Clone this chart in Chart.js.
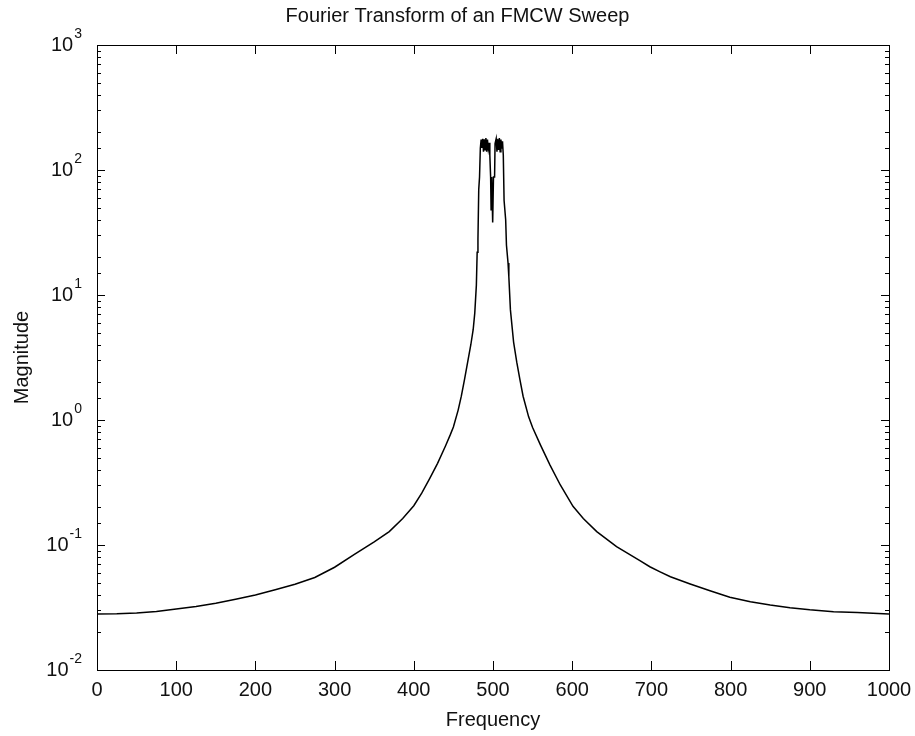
<!DOCTYPE html>
<html>
<head>
<meta charset="utf-8">
<script src="https://cdn.jsdelivr.net/npm/chart.js@4.4.1/dist/chart.umd.min.js"></script>
<style>
  body { margin: 0; background: #fff; }
  #wrap { width: 915px; height: 736px; }
</style>
</head>
<body>
<div id="wrap"><canvas id="fft" width="915" height="736"></canvas></div>
<script>
// values
const freq = [
    0, 25, 50, 75, 100, 125, 150, 175, 200, 225, 250, 275, 300, 325, 350, 369, 386,
    400, 410, 420, 430, 440, 446, 450, 456, 460, 464, 468, 472, 475, 477, 479,
    480, 481, 482, 483,
    484, 485, 486, 487, 488, 489, 490, 491, 492, 493, 494, 495, 496, 497,
    497.6, 498.4, 499.6, 500.6, 502, 502.6,
    504, 505, 506, 507, 508, 509, 510, 511, 512, 513, 514,
    516, 517, 519, 520, 522, 526, 530, 534, 538, 545, 550, 560, 572, 585,
    601, 614, 631, 656, 686, 698, 711, 724, 749, 774, 799, 825, 850, 875,
    900, 930, 960, 993, 1000
];
const magnitude = [
    0.0281, 0.0282, 0.0286, 0.0294, 0.0308, 0.0322, 0.0342, 0.0368, 0.0398, 0.0438, 0.0485, 0.055, 0.0664, 0.084, 0.106, 0.128, 0.163,
    0.206, 0.26, 0.34, 0.45, 0.62, 0.76, 0.88, 1.2, 1.55, 2.1, 2.9, 4.0, 5.3, 7.2, 12,
    22, 28, 70, 88,
    149, 175, 150, 178, 140, 176, 145, 180, 140, 175, 148, 165, 132, 88,
    48, 88, 38, 88, 88, 163,
    178, 140, 176, 145, 180, 140, 175, 148, 170, 132, 57,
    40, 25, 18, 14, 7.6, 4.2, 2.9, 2.1, 1.55, 1.06, 0.87, 0.63, 0.436, 0.302,
    0.204, 0.163, 0.128, 0.097, 0.0745, 0.067, 0.061, 0.0557, 0.0488, 0.0431, 0.0382, 0.0352, 0.0331, 0.0315,
    0.0303, 0.0293, 0.0288, 0.0282, 0.0281
];
const xTicks = [0, 100, 200, 300, 400, 500, 600, 700, 800, 900, 1000];
const yDecades = [-2, -1, 0, 1, 2, 3];

const FONT = "'Liberation Sans', Arial, sans-serif";
Chart.defaults.font.family = FONT;
Chart.defaults.color = '#111';

const isDecade = v => Math.abs(Math.log10(v) - Math.round(Math.log10(v))) < 1e-9;

// box, inward ticks and 10^n labels like the matlab axes
const matlabAxes = {
    id: 'matlabAxes',
    afterDraw(chart) {
        const { ctx, chartArea: a, scales: { x, y } } = chart;
        ctx.save();
        ctx.strokeStyle = '#000';
        ctx.lineWidth = 1;
        ctx.strokeRect(a.left + 0.5, a.top + 0.5, a.right - a.left, a.bottom - a.top);
        ctx.beginPath();
        x.ticks.forEach(t => {
            const px = Math.round(x.getPixelForValue(t.value)) + 0.5;
            ctx.moveTo(px, a.bottom); ctx.lineTo(px, a.bottom - 9);
            ctx.moveTo(px, a.top); ctx.lineTo(px, a.top + 9);
        });
        y.ticks.forEach(t => {
            const len = isDecade(t.value) ? 8 : 4;
            const py = Math.round(y.getPixelForValue(t.value)) + 0.5;
            ctx.moveTo(a.left, py); ctx.lineTo(a.left + len, py);
            ctx.moveTo(a.right, py); ctx.lineTo(a.right - len, py);
        });
        ctx.stroke();

        // decade labels
        ctx.fillStyle = '#111';
        yDecades.forEach(e => {
            const py = y.getPixelForValue(Math.pow(10, e));
            const exp = e < 0 ? '-' + (-e) : String(e);
            ctx.font = '14px ' + FONT;
            ctx.textAlign = 'right';
            ctx.textBaseline = 'alphabetic';
            const right = a.left - 15;
            ctx.fillText(exp, right, py - 7);
            const w = ctx.measureText(exp).width;
            ctx.font = '20px ' + FONT;
            ctx.textBaseline = 'middle';
            ctx.fillText('10', right - w - 1, py);
        });
        ctx.restore();
    }
};

const points = freq.map((f, i) => ({ x: f, y: magnitude[i] }));

new Chart(document.getElementById('fft'), {
    type: 'line',
    data: {
        datasets: [{
            data: points,
            borderColor: '#000',
            borderWidth: 1.5,
            pointRadius: 0,
            tension: 0,
            fill: false,
        }]
    },
    options: {
        responsive: false,
        devicePixelRatio: 1,
        animation: false,
        layout: { padding: { left: 26, right: 26, top: 0, bottom: 0 } },
        plugins: {
            legend: { display: false },
            tooltip: { enabled: false },
            title: {
                display: true,
                text: 'Fourier Transform of an FMCW Sweep',
                color: '#111',
                font: { size: 20, weight: 'normal' },
                padding: { top: 4, bottom: 17 },
            },
        },
        scales: {
            x: {
                type: 'linear',
                min: 0,
                max: 1000,
                afterBuildTicks: s => { s.ticks = xTicks.map(v => ({ value: v })); },
                afterFit: s => { s.height = 66; s.paddingLeft = 0; s.paddingRight = 0; },
                grid: { display: false, drawTicks: false },
                border: { display: false },
                ticks: { font: { size: 20 }, padding: 8, maxRotation: 0, autoSkip: false, callback: v => String(v) },
                title: {
                    display: true,
                    text: 'Frequency',
                    font: { size: 20 },
                    padding: { top: 0, bottom: 4 },
                },
            },
            y: {
                type: 'logarithmic',
                min: 0.01,
                max: 1000,
                afterFit: s => { s.width = 71; },
                grid: { display: false, drawTicks: false },
                border: { display: false },
                ticks: { display: false, autoSkip: false },
                title: {
                    display: true,
                    text: 'Magnitude',
                    font: { size: 20 },
                    padding: { top: -16, bottom: 0 },
                },
            },
        },
    },
    plugins: [matlabAxes],
});
</script>
</body>
</html>
